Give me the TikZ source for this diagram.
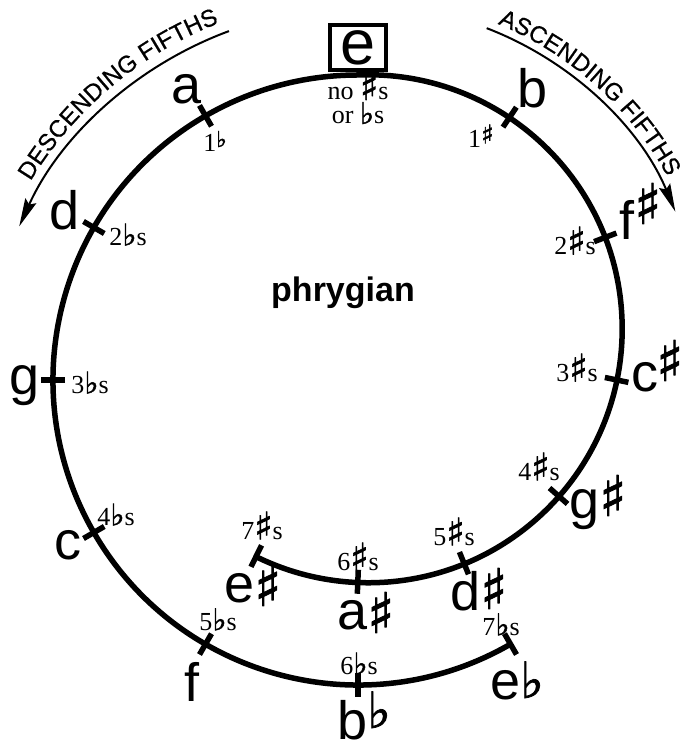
\documentclass[tikz,border=0pt]{standalone}
\usepackage{fontspec}
\setmainfont{Liberation Serif}
\setsansfont{Liberation Sans}
\newfontfamily\symfont[FakeBold=1.5]{DejaVu Sans}
\newfontfamily\arcfont[FakeBold=0.6]{Liberation Sans}
\usetikzlibrary{calc,arrows.meta,decorations.text}
\newcommand\smsh{\smash{\fontsize{38}{38}\symfont ♯}}
\newcommand\smfl{\smash{\fontsize{30}{30}\symfont ♭}}
\newcommand\bgsh[1]{\raisebox{#1}{\fontsize{56}{56}\symfont ♯}}
\newcommand\bgfl[1]{\raisebox{#1}{\fontsize{50}{50}\symfont ♭}}
\begin{document}
\begin{tikzpicture}[x=1pt,y=1pt,
  curve/.style={line width=5.5pt},
  tickmark/.style={line width=5.5pt},
  arrowarc/.style={line width=2pt,-{Stealth[length=28pt,width=12pt,inset=4pt]}},
  arctext/.style={decorate,decoration={text along path,text align=center,
      text={|\arcfont\fontsize{24}{24}\selectfont|#1}}},
  note/.style={font=\sffamily\fontsize{54}{54}\selectfont,inner sep=0pt,anchor=base west},
  keysig/.style={font=\fontsize{26}{24}\selectfont,inner sep=0pt,align=center},
  title/.style={font=\sffamily\bfseries\fontsize{34}{34}\selectfont,inner sep=0pt,anchor=base}]
\useasboundingbox (0,0) rectangle (682,743);
\coordinate (L) at (358,363);
\coordinate (R) at (368,415);
\coordinate (A) at (367,403);
% main spiral-like curve
\draw[curve] ([shift={(300:305)}]L) arc[start angle=300,end angle=90,radius=305]
   arc[start angle=92.3,end angle=-116.1,radius=254];
% ticks
\foreach \a in {120,150,...,300}
  \draw[tickmark] ([shift={(\a:293)}]L) -- ([shift={(\a:317)}]L);
\foreach \a in {56.1,20.9,-11.8,-41.4,-67.8,-92.3,-116.1}
  \draw[tickmark] ([shift={(\a:242)}]R) -- ([shift={(\a:266)}]R);
% top box
\node[draw,line width=4pt,minimum width=56pt,minimum height=45pt,inner sep=0pt,
  font=\sffamily\fontsize{63}{63}\selectfont] (e) at (358,695.5) {\raisebox{-1pt}{e}};
% arrows
\draw[arrowarc] ([shift={(110.3:372)}]L) arc[start angle=110.3,end angle=155.6,radius=372];
\draw[arrowarc] ([shift={(69:334)}]A) arc[start angle=69,end angle=22.6,radius=334];
\path[arctext={DESCENDING FIFTHS}] ([shift={(152:383)}]L) arc[start angle=152,end angle=108,radius=383];
\path[arctext={ASCENDING FIFTHS}] ([shift={(67:342)}]A) arc[start angle=67,end angle=29,radius=342];
% title
\node[title] (mode) at (343,441) {phrygian};
% note names
\node[note] (na) at (171,639) {a};
\node[note] (nd) at (49,513) {d};
\node[note] (ng) at (9,348) {g};
\node[note] (nc) at (54,183) {c};
\node[note] (nf) at (184,41) {f};
\node[note] (nbb) at (337,3) {b\bgfl{12pt}};
\node[note] (neb) at (490,43) {e\bgfl{2pt}};
\node[note] (nb) at (517,635) {b};
\node[note] (nfs) at (619,503) {f\bgsh{16pt}};
\node[note] (ncs) at (631,351) {c\kern-2pt\bgsh{11pt}};
\node[note] (ngs) at (569,224) {g\bgsh{3pt}};
\node[note] (nds) at (450,132) {d\bgsh{2pt}};
\node[note] (nas) at (337,113) {a\bgsh{-3pt}};
\node[note] (nes) at (224,140) {e\bgsh{-3pt}};
% key signatures
\node[keysig] (k0) at (358,637) {no \smsh s\\or \smfl s};
\node[keysig] (kf1) at (215,602) {1\raisebox{4pt}{\fontsize{22}{22}\symfont ♭}};
\node[keysig] (kf2) at (128,506) {2\smfl s};
\node[keysig] (kf3) at (90,358) {3\smfl s};
\node[keysig] (kf4) at (116,226) {4\smfl s};
\node[keysig] (kf5) at (218,121) {5\smfl s};
\node[keysig] (kf6) at (359,77) {6\smfl s};
\node[keysig] (kf7) at (501,116) {7\smfl s};
\node[keysig] (ks1) at (481,607) {1\raisebox{4pt}{\fontsize{26}{26}\symfont ♯}};
\node[keysig] (ks2) at (575,497) {2\smsh s};
\node[keysig] (ks3) at (577,370) {3\smsh s};
\node[keysig] (ks4) at (539,271) {4\smsh s};
\node[keysig] (ks5) at (454,206) {5\smsh s};
\node[keysig] (ks6) at (358,181) {6\smsh s};
\node[keysig] (ks7) at (262,212) {7\smsh s};
\end{tikzpicture}
\end{document}
